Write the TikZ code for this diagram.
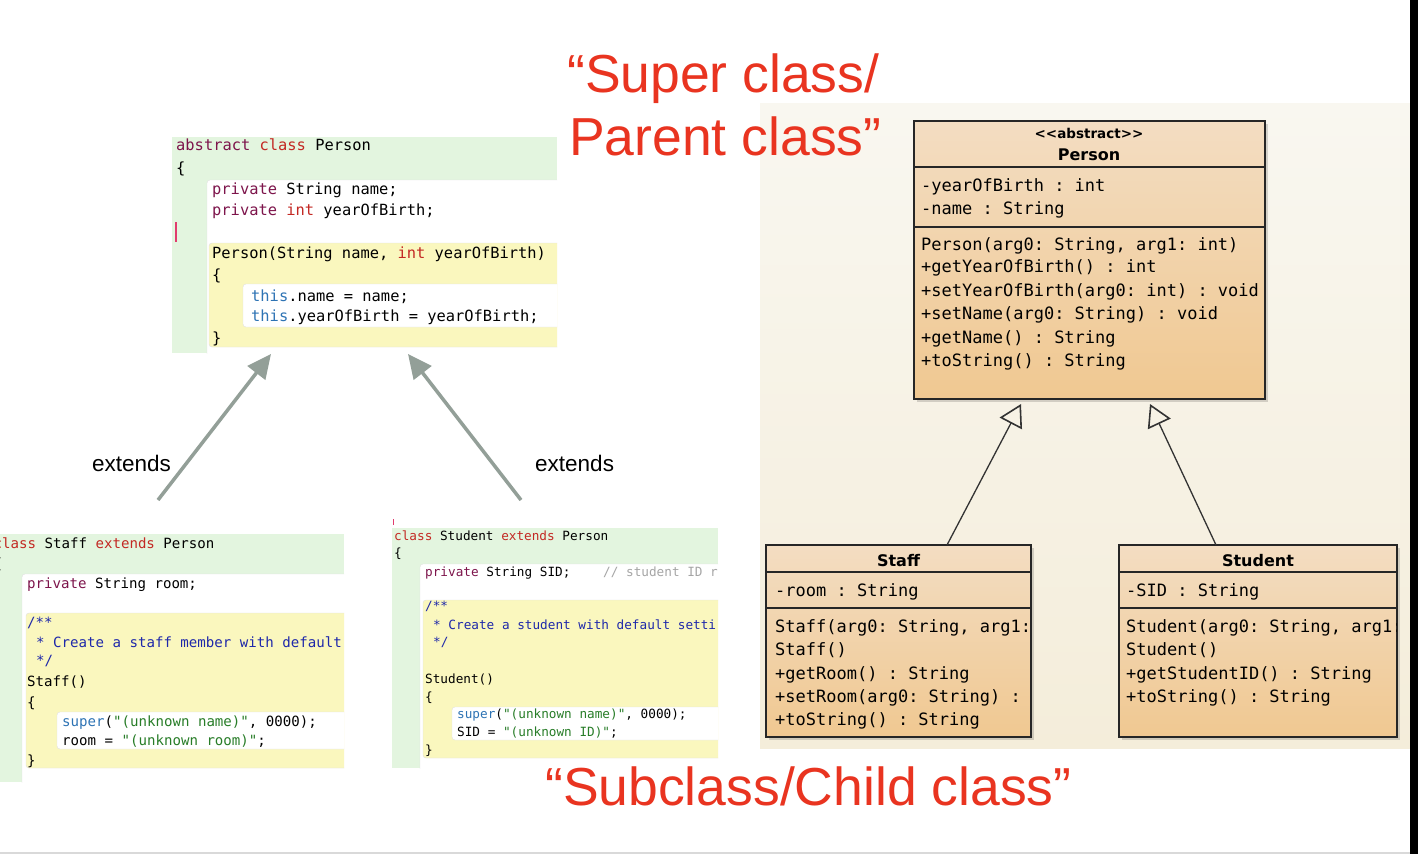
\documentclass[tikz,border=0pt]{standalone}
\usepackage{fontspec}
\setmainfont{Liberation Sans}
\setmonofont{DejaVu Sans Mono}
\newfontfamily\headfont{DejaVu Sans}
\usetikzlibrary{arrows.meta}

\definecolor{titlered}{RGB}{233,52,32}
\definecolor{classgreen}{RGB}{227,245,223}
\definecolor{methyellow}{RGB}{250,247,190}
\definecolor{jmodcol}{RGB}{125,20,75}
\definecolor{jkeycol}{RGB}{195,40,35}
\definecolor{jrefcol}{RGB}{45,115,180}
\definecolor{jstrcol}{RGB}{40,125,40}
\definecolor{jdoccol}{RGB}{30,40,170}
\definecolor{jcmtcol}{RGB}{165,165,165}
\definecolor{cursorpink}{RGB}{225,60,110}
\definecolor{arrowgray}{RGB}{147,159,152}
\definecolor{paneltop}{RGB}{249,247,240}
\definecolor{panelbot}{RGB}{244,237,218}
\definecolor{umltop}{RGB}{243,221,194}
\definecolor{umlbot}{RGB}{240,200,145}

\newcommand{\jmod}[1]{\textcolor{jmodcol}{#1}}
\newcommand{\jkey}[1]{\textcolor{jkeycol}{#1}}
\newcommand{\jref}[1]{\textcolor{jrefcol}{#1}}
\newcommand{\jstr}[1]{\textcolor{jstrcol}{#1}}
\newcommand{\jdoc}[1]{\textcolor{jdoccol}{#1}}
\newcommand{\jcmt}[1]{\textcolor{jcmtcol}{#1}}

\begin{document}
\begin{tikzpicture}[x=1pt, y=-1pt,
        codeA/.style = {anchor=base west, inner sep=0pt, font=\ttfamily\fontsize{15.4}{18}\selectfont},
        codeB/.style = {anchor=base west, inner sep=0pt, font=\ttfamily\fontsize{14.1}{17}\selectfont},
        codeC/.style = {anchor=base west, inner sep=0pt, font=\ttfamily\fontsize{12.7}{15}\selectfont},
        member/.style = {anchor=base west, inner sep=0pt, font=\ttfamily\fontsize{17}{20}\selectfont},
        umlname/.style = {anchor=base, inner sep=0pt, font=\headfont\bfseries\fontsize{16}{19}\selectfont},
        stereo/.style = {anchor=base, inner sep=0pt, font=\headfont\bfseries\fontsize{13.5}{16}\selectfont},
        title/.style = {anchor=base west, inner sep=0pt, text=titlered, font=\fontsize{53.5}{60}\selectfont},
        extlabel/.style = {anchor=base west, inner sep=0pt, font=\fontsize{22.5}{26}\selectfont},
        bodyblock/.style = {fill=white, draw=black!12, rounded corners=3pt},
        methblock/.style = {fill=methyellow, draw=black!12, rounded corners=3pt},
        umlbox/.style = {draw=black!85, line width=1.8pt, top color=umltop, bottom color=umlbot},
        umlshadow/.style = {fill=black, opacity=0.15},
        umlsep/.style = {draw=black!85, line width=1.4pt},
        extends/.style = {draw=arrowgray, line width=3.5pt, -{Triangle[length=24pt,width=22pt]}},
        inherit/.style = {draw=black!80, line width=1.3pt, -{Triangle[open,length=22pt,width=25pt,line width=1.6pt]}},
        ]
        \useasboundingbox (0,0) rectangle (1418,854);
        \fill[white] (0,0) rectangle (1418,854);

        % Person source
        \begin{scope}
        \clip (172,137) rectangle (557,353);
        \fill[classgreen] (172,137) rectangle (557,353);
        \draw[bodyblock] (207,180) rectangle (570,362);
        \draw[methblock] (209,243) rectangle (570,347);
        \draw[bodyblock] (243,284) rectangle (570,327);
        \draw[cursorpink, line width=1.6pt] (176,222) -- (176,242);
        \node[codeA](pa) at (176,150) {\jmod{abstract} \jkey{class} Person};
        \node[codeA](pb) at (176,173) {\{};
        \node[codeA](pc) at (212,194) {\jmod{private} String name;};
        \node[codeA](pd) at (212,215) {\jmod{private} \jkey{int} yearOfBirth;};
        \node[codeA](pe) at (212,258) {Person(String name, \jkey{int} yearOfBirth)};
        \node[codeA](pf) at (212,280) {\{};
        \node[codeA](pg) at (251,301) {\jref{this}.name = name;};
        \node[codeA](ph) at (251,321) {\jref{this}.yearOfBirth = yearOfBirth;};
        \node[codeA](pi) at (212,343) {\}};
        \end{scope}

        % Staff source
        \begin{scope}
        \clip (0,534) rectangle (344,782);
        \fill[classgreen] (0,534) rectangle (344,782);
        \draw[bodyblock] (22,574) rectangle (356,792);
        \draw[methblock] (26,613) rectangle (356,768);
        \draw[bodyblock] (57,712) rectangle (356,749);
        \node[codeB](sa) at (-6.5,548) {\jkey{class} Staff \jkey{extends} Person};
        \node[codeB](sb) at (-6.5,568) {\{};
        \node[codeB](sc) at (27,588) {\jmod{private} String room;};
        \node[codeB](sd) at (27,627) {\jdoc{/**}};
        \node[codeB](se) at (36,647) {\jdoc{* Create a staff member with default}};
        \node[codeB](sf) at (36,665) {\jdoc{*/}};
        \node[codeB](sg) at (27,686) {Staff()};
        \node[codeB](sh) at (27,707) {\{};
        \node[codeB](si) at (62,726) {\jref{super}(\jstr{"(unknown name)"}, 0000);};
        \node[codeB](sj) at (62,745) {room = \jstr{"(unknown room)"};};
        \node[codeB](sk) at (27,765) {\}};
        \end{scope}

        % Student source
        \begin{scope}
        \clip (392,528) rectangle (718,768);
        \fill[classgreen] (392,528) rectangle (718,768);
        \draw[bodyblock] (420,564) rectangle (730,778);
        \draw[methblock] (423,600) rectangle (730,758);
        \draw[bodyblock] (452,707) rectangle (730,740);
        \node[codeC](ta) at (394,540) {\jkey{class} Student \jkey{extends} Person};
        \node[codeC](tb) at (394,557) {\{};
        \node[codeC](tc) at (425,576) {\jmod{private} String SID;};
        \node[codeC](td) at (603,576) {\jcmt{// student ID r}};
        \node[codeC](te) at (425,610) {\jdoc{/**}};
        \node[codeC](tf) at (433,629) {\jdoc{* Create a student with default setti}};
        \node[codeC](tg) at (433,646) {\jdoc{*/}};
        \node[codeC](th) at (425,683) {Student()};
        \node[codeC](ti) at (425,701) {\{};
        \node[codeC](tj) at (457,718) {\jref{super}(\jstr{"(unknown name)"}, 0000);};
        \node[codeC](tk) at (457,736) {SID = \jstr{"(unknown ID)"};};
        \node[codeC](tl) at (425,754) {\}};
        \end{scope}
        \draw[cursorpink, line width=1pt] (393,519) -- (393,525);

        % extends arrows
        \coordinate (stafftail) at (158,500);
        \coordinate (stafftip) at (271,354);
        \coordinate (studenttail) at (521,500);
        \coordinate (studenttip) at (408,354);
        \draw[extends] (stafftail) -- (stafftip);
        \draw[extends] (studenttail) -- (studenttip);
        \node[extlabel](extL) at (92,471) {extends};
        \node[extlabel](extR) at (535,471) {extends};

        % UML panel
        \shade[top color=paneltop, bottom color=panelbot] (760,103) rectangle (1410,748);

        % Person box
        \fill[umlshadow] (917,124) rectangle (1268,402);
        \draw[umlbox] (914,121) rectangle (1265,399);
        \draw[umlsep] (914,167) -- (1265,167);
        \draw[umlsep] (914,227) -- (1265,227);
        \node[stereo](pstereo) at (1089,138) {<{}<abstract>{}>};
        \node[umlname](pname) at (1089,160) {Person};
        \node[member](pm1) at (921,191.6) {-yearOfBirth : int};
        \node[member](pm2) at (921,214.6) {-name : String};
        \node[member](pm3) at (921,250.6) {Person(arg0: String, arg1: int)};
        \node[member](pm4) at (921,272.6) {+getYearOfBirth() : int};
        \node[member](pm5) at (921,296.6) {+setYearOfBirth(arg0: int) : void};
        \node[member](pm6) at (921,319.6) {+setName(arg0: String) : void};
        \node[member](pm7) at (921,343.6) {+getName() : String};
        \node[member](pm8) at (921,366.6) {+toString() : String};

        % Staff box
        \fill[umlshadow] (769,548) rectangle (1034,740);
        \draw[umlbox] (766,545) rectangle (1031,737);
        \draw[umlsep] (766,572) -- (1031,572);
        \draw[umlsep] (766,608) -- (1031,608);
        \begin{scope}
        \clip (766,545) rectangle (1030,737);
        \node[umlname](sname) at (898.5,566) {Staff};
        \node[member](sm1) at (775,596.6) {-room : String};
        \node[member](sm2) at (775,632.6) {Staff(arg0: String, arg1:};
        \node[member](sm3) at (775,655.9) {Staff()};
        \node[member](sm4) at (775,679.2) {+getRoom() : String};
        \node[member](sm5) at (775,702.5) {+setRoom(arg0: String) :};
        \node[member](sm6) at (775,725.8) {+toString() : String};
        \end{scope}

        % Student box
        \fill[umlshadow] (1122,548) rectangle (1400,740);
        \draw[umlbox] (1119,545) rectangle (1397,737);
        \draw[umlsep] (1119,572) -- (1397,572);
        \draw[umlsep] (1119,608) -- (1397,608);
        \begin{scope}
        \clip (1119,545) rectangle (1396,737);
        \node[umlname](tname) at (1258,566) {Student};
        \node[member](tm1) at (1126,596.6) {-SID : String};
        \node[member](tm2) at (1126,632.6) {Student(arg0: String, arg1:};
        \node[member](tm3) at (1126,655.9) {Student()};
        \node[member](tm4) at (1126,679.2) {+getStudentID() : String};
        \node[member](tm5) at (1126,702.5) {+toString() : String};
        \end{scope}

        % inheritance
        \coordinate (staffup) at (947,545);
        \coordinate (personL) at (1021,404);
        \coordinate (studentup) at (1216,545);
        \coordinate (personR) at (1150,404);
        \draw[inherit] (staffup) -- (personL);
        \draw[inherit] (studentup) -- (personR);

        % titles
        \node[title](supertitle) at (567,92) {“Super class/};
        \node[title](parenttitle) at (569,155) {Parent class”};
        \node[title](subtitle) at (545,805) {“Subclass/Child class”};

        % frame edges
        \draw[black!15, line width=2pt] (0,852.5) -- (1410,852.5);
        \fill[black] (1410,0) rectangle (1418,854);
\end{tikzpicture}
\end{document}
